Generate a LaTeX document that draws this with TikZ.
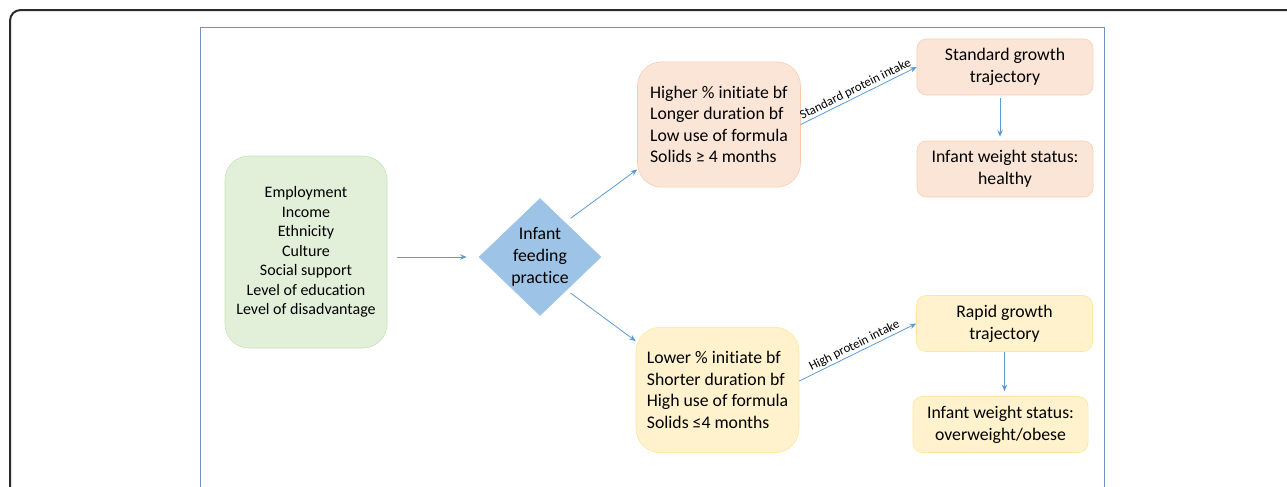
\documentclass[tikz,border=0pt]{standalone}
\usepackage{fontspec}
\setmainfont{Carlito}[Ligatures=NoCommon]
\usetikzlibrary{arrows.meta,shapes.geometric,positioning}
\usepackage{xcolor}
\definecolor{arrowblue}{HTML}{5B9BD5}
\definecolor{frameblue}{HTML}{7092BE}
\definecolor{framegray}{HTML}{2B2B2B}
\definecolor{greenfill}{HTML}{E2F0D9}
\definecolor{greenline}{HTML}{C5E0B4}
\definecolor{peachfill}{HTML}{FBE5D6}
\definecolor{peachline}{HTML}{F8CBAD}
\definecolor{yellowfill}{HTML}{FFF2CC}
\definecolor{yellowline}{HTML}{FFE699}
\definecolor{diamondfill}{HTML}{9DC3E6}

\begin{document}
\begin{tikzpicture}[
    x=0.75pt,y=-0.75pt,
    factors/.style={draw=greenline,fill=greenfill,rounded corners=18pt,minimum width=121.5pt,minimum height=144pt,align=center,font=\fontsize{12}{14.6}\selectfont},
    practice/.style={diamond,fill=diamondfill,draw=diamondfill,inner sep=0pt,minimum width=91.5pt,minimum height=87.75pt,align=center,font=\fontsize{13.3}{16.5}\selectfont},
    habit/.style={rounded corners=18pt,minimum width=122.25pt,minimum height=94pt,align=left,font=\fontsize{13.3}{16.1}\selectfont},
    outcome/.style={rounded corners=7pt,minimum width=132pt,minimum height=42pt,align=center,font=\fontsize{13.3}{16.5}\selectfont},
    arr/.style={-{Stealth[length=5pt,width=4pt]},draw=arrowblue,line width=0.6pt},
    intake/.style={midway,above,sloped,inner sep=1pt,font=\fontsize{9.6}{10}\selectfont}
    ]

    \clip (0,0) rectangle (1287,486);

    % Frames
    \draw[draw=framegray,line width=1.5pt,rounded corners=8pt] (10,10) rectangle (1320,520);
    \draw[draw=frameblue,line width=0.75pt] (200,27) rectangle (1104,520);

    % Factors and practice
    \node[factors] (factors) at (306,252) {Employment\\Income\\Ethnicity\\Culture\\Social support\\Level of education\\Level of disadvantage};
    \node[practice] (practice) at (540,257) {Infant\\feeding\\practice};

    % Feeding patterns
    \node[habit,fill=peachfill,draw=peachline] (bfhigh) at (719,124.5) {Higher \% initiate bf\\Longer duration bf\\Low use of formula\\Solids ≥ 4 months};
    \node[habit,fill=yellowfill,draw=yellowline] (bflow) at (717.5,390) {Lower \% initiate bf\\Shorter duration bf\\High use of formula\\Solids ≤4 months};

    % Growth and weight status
    \node[outcome,fill=peachfill,draw=peachline] (stdgrowth) at (1005,67) {Standard growth\\trajectory};
    \node[outcome,fill=peachfill,draw=peachline] (healthy) at (1005,169) {Infant weight status:\\healthy};
    \node[outcome,fill=yellowfill,draw=yellowline] (rapid) at (1004.5,323.5) {Rapid growth\\trajectory};
    \node[outcome,fill=yellowfill,draw=yellowline,minimum width=131.25pt] (obese) at (1000.5,424.5) {Infant weight status:\\overweight/obese};

    % Arrows
    \draw[arr,shorten <=7.5pt,shorten >=9pt] (factors.east |- practice.west) -- (practice.west);
    \draw[arr] ([yshift=7pt]practice.north east) -- ([yshift=13.5pt]bfhigh.south west);
    \draw[arr] ([yshift=-5pt]practice.south east) -- ([yshift=-10.5pt]bflow.north west);
    \draw[arr] (bfhigh.east) -- (stdgrowth.west) node[intake] {Standard protein intake};
    \draw[arr] ([yshift=6.75pt]bflow.east) -- (rapid.west) node[intake] {High protein intake};
    \draw[arr,shorten <=2.25pt,shorten >=3pt] ([xshift=-3.75pt]stdgrowth.south) -- ([xshift=-3.75pt]healthy.north);
    \draw[arr,shorten >=3.75pt] (rapid.south) -- (rapid.south |- obese.north);

\end{tikzpicture}
\end{document}
